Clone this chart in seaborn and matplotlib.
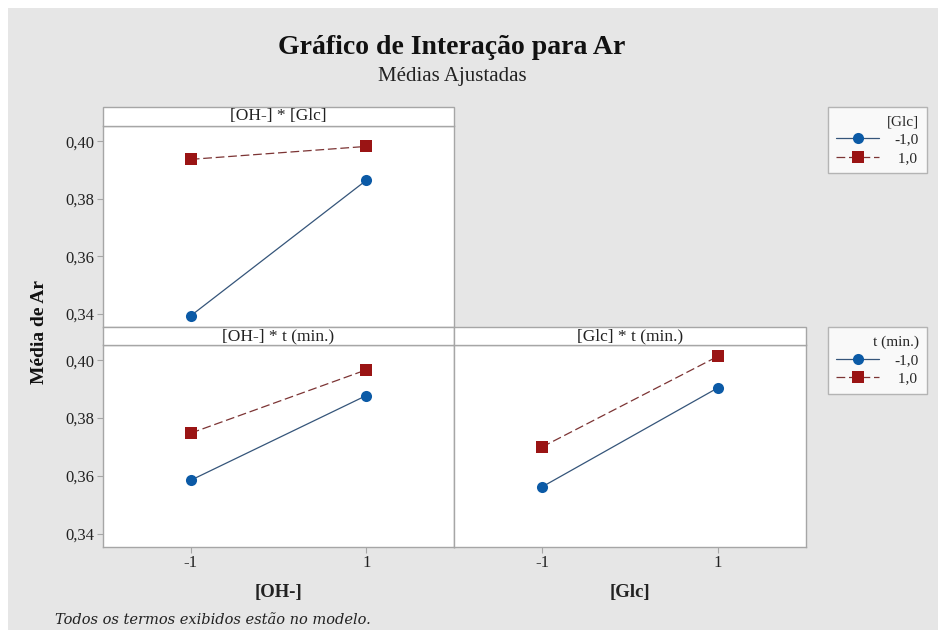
import numpy as np
import pandas as pd
import seaborn as sns
import matplotlib
matplotlib.use("Agg")
import matplotlib.pyplot as plt
from matplotlib.patches import Rectangle
from matplotlib.lines import Line2D
from matplotlib.ticker import FuncFormatter

# Fitted means for each two-factor interaction (factor levels coded -1 / 1)
levels = [-1, 1]
group_labels = ["-1,0", " 1,0"]

oh_glc_low = [0.3393, 0.3864]    # [Glc] = -1
oh_glc_high = [0.3937, 0.3982]   # [Glc] = 1
oh_t_low = [0.3585, 0.3878]      # t = -1
oh_t_high = [0.3748, 0.3967]     # t = 1
glc_t_low = [0.3562, 0.3905]     # t = -1
glc_t_high = [0.3700, 0.4014]    # t = 1

panel_titles = ["[OH-] * [Glc]", "[OH-] * t (min.)", "[Glc] * t (min.)"]
x_labels = ["[OH-]", "[Glc]"]
legend_titles = ["[Glc]", "t (min.)"]
y_ticks = [0.34, 0.36, 0.38, 0.40]

BG = "#e6e6e6"
EDGE = "#a6a6a6"
BLUE = "#0b5aa6"
RED = "#9a1414"
BLUE_LINE = "#35557a"
RED_LINE = "#7c3434"
SERIF = ["Liberation Serif", "DejaVu Serif"]

sns.set_theme(style="white")
plt.rcParams["font.family"] = SERIF
plt.rcParams["axes.unicode_minus"] = False


def frame(low, high):
    return pd.DataFrame({
        "x": levels + levels,
        "y": list(low) + list(high),
        "grp": [group_labels[0]] * 2 + [group_labels[1]] * 2,
    })


W, H = 938, 630
fig = plt.figure(figsize=(W / 100, H / 100), dpi=100, facecolor="white")
fig.patches.append(Rectangle((8 / W, 0), 1, 1 - 8 / H, transform=fig.transFigure,
                             facecolor=BG, edgecolor="none", zorder=-10))


def px_axes(x0, x1, y0, y1):
    return fig.add_axes([x0 / W, 1 - y1 / H, (x1 - x0) / W, (y1 - y0) / H])


ax1 = px_axes(103, 454, 126, 327)
ax2 = px_axes(103, 454, 345, 547)
ax3 = px_axes(454, 806, 345, 547)

panels = [
    (ax1, frame(oh_glc_low, oh_glc_high), 19),
    (ax2, frame(oh_t_low, oh_t_high), 18),
    (ax3, frame(glc_t_low, glc_t_high), 18),
]

for i, (ax, df, head_px) in enumerate(panels):
    sns.lineplot(data=df, x="x", y="y", hue="grp", style="grp",
                 palette={group_labels[0]: BLUE, group_labels[1]: RED},
                 markers={group_labels[0]: "o", group_labels[1]: "s"},
                 dashes={group_labels[0]: "", group_labels[1]: (7, 3)},
                 markersize=8, linewidth=0.9, markeredgewidth=0,
                 legend=False, ax=ax)
    for ln, lc, mc in zip(ax.lines, [BLUE_LINE, RED_LINE], [BLUE, RED]):
        ln.set_color(lc)
        ln.set_markerfacecolor(mc)
        ln.set_markeredgecolor(mc)
    ax.set_facecolor("white")
    ax.set_xlim(-2, 2)
    ax.set_ylim(0.3354, 0.4053)
    ax.set_xlabel("")
    ax.set_ylabel("")
    for sp in ax.spines.values():
        sp.set_color(EDGE)
        sp.set_linewidth(1.0)
    ax.set_yticks(y_ticks)
    ax.set_xticks(levels)
    ax.yaxis.set_major_formatter(FuncFormatter(lambda v, p: f"{v:.2f}".replace(".", ",")))
    ax.tick_params(axis="both", which="both", direction="out", length=4, width=0.8,
                   color=EDGE, labelsize=12, pad=2, labelcolor="#222222")
    ax.tick_params(left=(ax is not ax3), labelleft=(ax is not ax3),
                   bottom=(ax is not ax1), labelbottom=(ax is not ax1))
    h = head_px / ((327 - 126) if ax is ax1 else (547 - 345))
    ax.add_patch(Rectangle((0, 1), 1, h, transform=ax.transAxes, clip_on=False,
                           facecolor="white", edgecolor=EDGE, linewidth=1.0, zorder=5))
    ax.text(0.5, 1 + h / 2, panel_titles[i], transform=ax.transAxes, ha="center",
            va="center", fontsize=12.5, color="#222222", zorder=6)

ax2.set_xlabel(x_labels[0], fontsize=13.5, fontweight="bold", color="#222222", labelpad=9)
ax3.set_xlabel(x_labels[1], fontsize=13.5, fontweight="bold", color="#222222", labelpad=9)

fig.text(452 / W, 1 - 48 / H, "Gráfico de Interação para Ar", ha="center", va="center",
         fontsize=20, fontweight="bold", color="#111111")
fig.text(452 / W, 1 - 77 / H, "Médias Ajustadas", ha="center", va="center",
         fontsize=15, color="#222222")
fig.text(40 / W, 1 - 332 / H, "Média de Ar", rotation=90, ha="center", va="center",
         fontsize=14, fontweight="bold", color="#111111")
fig.text(55 / W, 1 - 620 / H, "Todos os termos exibidos estão no modelo.", ha="left",
         va="center", fontsize=10.5, style="italic", color="#222222",
         family=["DejaVu Serif"])

handles = [
    Line2D([], [], color=BLUE_LINE, linewidth=0.9, marker="o", markersize=8,
           markerfacecolor=BLUE, markeredgewidth=0),
    Line2D([], [], color=RED_LINE, linewidth=0.9, linestyle=(0, (7, 3)), marker="s",
           markersize=8, markerfacecolor=RED, markeredgewidth=0),
]
for title, top in zip(legend_titles, [107, 327]):
    leg = fig.legend(handles, group_labels, title=title, loc="upper left",
                     bbox_to_anchor=(828 / W, 1 - top / H), borderaxespad=0,
                     frameon=True, fancybox=False, edgecolor=EDGE, facecolor="white",
                     fontsize=11, title_fontsize=11, handlelength=2.8, handletextpad=1.0,
                     borderpad=0.55, labelspacing=0.3, alignment="right")
    leg.get_frame().set_linewidth(1.0)

fig.savefig("out.png", dpi=100, facecolor=fig.get_facecolor())
